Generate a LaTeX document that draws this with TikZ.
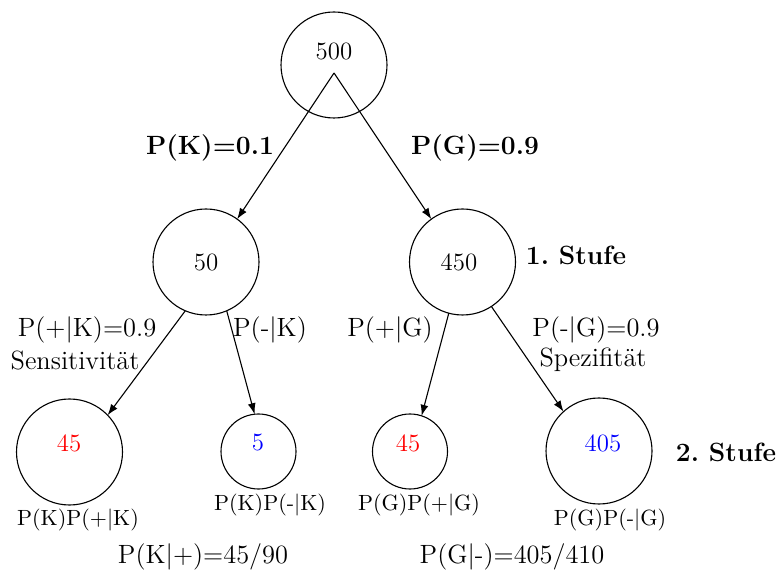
\documentclass[tikz,border=0pt]{standalone}
\usetikzlibrary{arrows.meta}
\newdimen\pxu
\pxu=0.4545pt
\begin{document}
\begin{tikzpicture}[x=0.4545pt,y=-0.4545pt,line width=0.5pt,
  bigc/.style={circle,draw,inner sep=0pt,outer sep=0pt,minimum size=106\pxu},
  smallc/.style={circle,draw,inner sep=0pt,outer sep=0pt,minimum size=75\pxu},
  num/.style={font=\fontsize{11.3}{13}\selectfont},
  elab/.style={font=\large},
  blab/.style={font=\large\bfseries},
  nlab/.style={font=\normalsize},
  edge/.style={-{Latex[length=5pt,width=3.6pt]}}]
\useasboundingbox (0,0) rectangle (780,573);
% circles
\node[bigc] (croot) at (334,65) {};
\node[bigc] (c50) at (206,262) {};
\node[bigc] (c450) at (462.5,262) {};
\node[bigc] (c45l) at (69.5,452) {};
\node[smallc] (c5) at (258.5,451.5) {};
\node[smallc] (c45r) at (410,451.5) {};
\node[bigc] (c405) at (599,451) {};
% numbers
\node[num] (t500) at (334,52) {500};
\node[num] (t50) at (206,262) {50};
\node[num] (t450) at (459,262) {450};
\node[num,text=red] (t45l) at (69,443) {45};
\node[num,text=blue] (t5) at (258,443) {5};
\node[num,text=red] (t45r) at (408,443) {45};
\node[num,text=blue] (t405) at (603,443) {405};
% edges
\coordinate (fork) at (334,73);
\draw[edge] (fork) -- (c50.54);
\draw[edge] (fork) -- (c450.126);
\draw[edge] (c50.-113) -- (c45l.44);
\draw[edge] (c50.-67) -- (c5.96);
\draw[edge] (c450.-105) -- (c45r.72);
\draw[edge] (c450.-57) -- (c405.132);
% edge labels
\node[blab] (lk) at (210,148) {P(K)=0.1};
\node[blab] (lg) at (475,148) {P(G)=0.9};
\node[blab] (st1) at (576,255) {1.\ Stufe};
\node[blab] (st2) at (726,452) {2.\ Stufe};
\node[elab] (lpk) at (87,330) {P(+|K)=0.9};
\node[elab] (lsens) at (75,360) {Sensitivität};
\node[elab] (lmk) at (270,330) {P(-|K)};
\node[elab] (lpg) at (390,330) {P(+|G)};
\node[elab] (lmg) at (596,330) {P(-|G)=0.9};
\node[elab] (lspez) at (593,360) {Spezifität};
% node labels
\node[nlab] (b1) at (78,520) {P(K)P(+|K)};
\node[nlab] (b2) at (270,505) {P(K)P(-|K)};
\node[nlab] (b3) at (419,505) {P(G)P(+|G)};
\node[nlab] (b4) at (610,520) {P(G)P(-|G)};
% results
\node[elab] (r1) at (203,557) {P(K|+)=45/90};
\node[elab] (r2) at (512,557) {P(G|-)=405/410};
\end{tikzpicture}
\end{document}
